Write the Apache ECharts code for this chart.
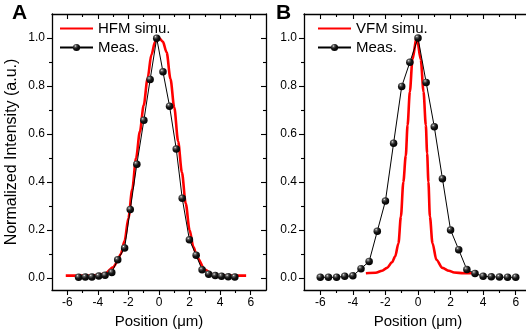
<!DOCTYPE html>
<html>
<head>
<meta charset="utf-8">
<script src="https://cdn.jsdelivr.net/npm/echarts@6/dist/echarts.min.js"></script>
<style>
html, body { margin: 0; padding: 0; background: #fff; }
#main { width: 526px; height: 330px; }
</style>
</head>
<body>
<div id="main"></div>
<script>
// panel A: horizontal focusing
var measAX = [-5.26, -4.82, -4.39, -3.94, -3.53, -3.09, -2.70, -2.25, -1.88, -1.45, -0.99, -0.58, -0.15,
              0.26, 0.69, 1.13, 1.52, 1.99, 2.43, 2.82, 3.25, 3.68, 4.09, 4.53, 4.96];
var measAY = [0.003, 0.004, 0.004, 0.008, 0.011, 0.023, 0.076, 0.125, 0.285, 0.474, 0.657, 0.827, 0.999,
              0.859, 0.716, 0.537, 0.332, 0.159, 0.095, 0.034, 0.016, 0.010, 0.007, 0.005, 0.004];
var simAX = [-6.1, -5.0, -4.5, -4.0, -3.5, -3.0, -2.75, -2.5, -2.25, -2.0, -1.75, -1.5, -1.25, -1.0, -0.75, -0.5, -0.25, 0.0,
             0.25, 0.5, 0.75, 1.0, 1.25, 1.5, 1.75, 2.0, 2.25, 2.5, 3.0, 3.5, 4.0, 5.0, 5.7];
var simAY = [0.01, 0.01, 0.01, 0.012, 0.02, 0.045, 0.065, 0.10, 0.155, 0.25, 0.37, 0.50, 0.61, 0.72, 0.83, 0.93, 0.985, 1.0,
             0.985, 0.94, 0.83, 0.71, 0.57, 0.44, 0.31, 0.20, 0.13, 0.085, 0.035, 0.015, 0.01, 0.01, 0.01];

// panel B: vertical focusing
var measBX = [-6, -5.5, -5, -4.5, -4, -3.5, -3, -2.5, -2, -1.5, -1, -0.5, 0,
              0.5, 1, 1.5, 2, 2.5, 3, 3.5, 4, 4.5, 5, 5.5, 6];
var measBY = [0.003, 0.003, 0.003, 0.007, 0.009, 0.039, 0.069, 0.195, 0.321, 0.561, 0.798, 0.899, 1.0,
              0.815, 0.63, 0.414, 0.2, 0.118, 0.035, 0.019, 0.007, 0.005, 0.004, 0.003, 0.003];
var simBX = [-3.2, -2.6, -2.2, -1.9, -1.6, -1.4, -1.2, -1.05, -0.9, -0.75, -0.64, -0.5, -0.34, -0.08,
             0.17, 0.34, 0.48, 0.56, 0.64, 0.73, 0.89, 1.13, 1.5, 1.9, 2.22, 2.8, 3.34];
var simBY = [0.02, 0.022, 0.03, 0.042, 0.065, 0.09, 0.145, 0.256, 0.40, 0.51, 0.637, 0.776, 0.91, 1.005,
             0.91, 0.776, 0.637, 0.52, 0.40, 0.256, 0.145, 0.076, 0.042, 0.03, 0.023, 0.02, 0.02];

var xMajor = [-6, -4, -2, 0, 2, 4, 6];
var xMinor = [-5, -3, -1, 1, 3, 5];
var yMajor = [0.0, 0.2, 0.4, 0.6, 0.8, 1.0];
var yMinor = [0.1, 0.3, 0.5, 0.7, 0.9];

var FONT = '"Liberation Sans", Arial, sans-serif';

function pairs(xs, ys) {
    var out = [];
    for (var i = 0; i < xs.length; i++) out.push([xs[i], ys[i]]);
    return out;
}

var frameLine = {show: true, onZero: false, lineStyle: {color: '#000', width: 1.3}};
var noLine = {show: false, onZero: false};

function tick(vals, len, inside) {
    return {show: true, inside: !!inside, customValues: vals, length: len, lineStyle: {color: '#000', width: 1.1}};
}

function xAxes(g) {
    var base = {gridIndex: g, type: 'value', min: -7, max: 7, splitLine: {show: false}, axisLabel: {show: false}};
    return [
        Object.assign({}, base, {
            position: 'bottom', axisLine: frameLine, axisTick: tick(xMajor, 5),
            axisLabel: {customValues: xMajor, color: '#000', fontSize: 12, fontFamily: FONT, margin: 7},
            name: 'Position (\u03bcm)', nameLocation: 'middle', nameGap: 24,
            nameTextStyle: {color: '#000', fontSize: 15, fontFamily: FONT}
        }),
        Object.assign({}, base, {position: 'bottom', axisLine: noLine, axisTick: tick(xMinor, 3)}),
        Object.assign({}, base, {position: 'top', axisLine: frameLine, axisTick: tick(xMajor, 5, true)}),
        Object.assign({}, base, {position: 'top', axisLine: noLine, axisTick: tick(xMinor, 3, true)})
    ];
}

function yAxes(g, withName) {
    var base = {gridIndex: g, type: 'value', min: -0.05, max: 1.1, splitLine: {show: false}, axisLabel: {show: false}};
    var main = Object.assign({}, base, {
        position: 'left', axisLine: frameLine, axisTick: tick(yMajor, 5),
        axisLabel: {customValues: yMajor, color: '#000', fontSize: 12, fontFamily: FONT, margin: 7,
                    formatter: function (v) { return v.toFixed(1); }}
    });
    if (withName) {
        main.name = 'Normalized Intensity (a.u.)';
        main.nameLocation = 'middle';
        main.nameGap = 32;
        main.nameTextStyle = {color: '#000', fontSize: 16, fontFamily: FONT};
    }
    return [
        main,
        Object.assign({}, base, {position: 'left', axisLine: noLine, axisTick: tick(yMinor, 3)}),
        Object.assign({}, base, {position: 'right', axisLine: frameLine, axisTick: tick(yMajor, 5, true)}),
        Object.assign({}, base, {position: 'right', axisLine: noLine, axisTick: tick(yMinor, 3, true)})
    ];
}

var ball = {
    type: 'radial', x: 0.35, y: 0.3, r: 0.75,
    colorStops: [{offset: 0, color: '#f4f4f4'}, {offset: 0.18, color: '#666666'},
                 {offset: 0.5, color: '#151515'}, {offset: 1, color: '#000000'}]
};

function simSeries(name, g, data) {
    return {
        name: name, type: 'line', xAxisIndex: g * 4, yAxisIndex: g * 4, data: data,
        smooth: 0.3, smoothMonotone: 'x', showSymbol: false, symbol: 'none',
        lineStyle: {color: '#ff0000', width: 2.6}, itemStyle: {color: '#ff0000'}, z: 2
    };
}
function measSeries(g, data) {
    return {
        name: 'Meas.', type: 'line', xAxisIndex: g * 4, yAxisIndex: g * 4, data: data,
        symbol: 'circle', symbolSize: 7.5, showSymbol: true,
        lineStyle: {color: '#000', width: 1}, itemStyle: {color: ball, borderWidth: 0}, z: 3
    };
}

function legendFor(simName, left) {
    return {
        data: [{name: simName, itemStyle: {opacity: 0}}, 'Meas.'],
        left: left, top: 21, padding: 0, orient: 'vertical',
        itemWidth: 33, itemHeight: 9, itemGap: 4,
        textStyle: {fontSize: 15, color: '#000', fontFamily: FONT}
    };
}

var chart = echarts.init(document.getElementById('main'));
var option = {
    animation: false,
    backgroundColor: '#fff',
    title: [
        {text: 'A', left: 12, top: 3, padding: 0, textStyle: {fontSize: 21, fontWeight: 'bold', color: '#000', fontFamily: FONT}},
        {text: 'B', left: 276, top: 3, padding: 0, textStyle: {fontSize: 21, fontWeight: 'bold', color: '#000', fontFamily: FONT}}
    ],
    legend: [legendFor('HFM simu.', 59), legendFor('VFM simu.', 317)],
    grid: [
        {left: 52, top: 14, width: 214, height: 276, outerBoundsMode: 'none'},
        {left: 304, top: 14, width: 228, height: 276, outerBoundsMode: 'none'}
    ],
    xAxis: xAxes(0).concat(xAxes(1)),
    yAxis: yAxes(0, true).concat(yAxes(1, false)),
    series: [
        simSeries('HFM simu.', 0, pairs(simAX, simAY)),
        measSeries(0, pairs(measAX, measAY)),
        simSeries('VFM simu.', 1, pairs(simBX, simBY)),
        measSeries(1, pairs(measBX, measBY))
    ]
};
chart.setOption(option);
</script>
</body>
</html>
